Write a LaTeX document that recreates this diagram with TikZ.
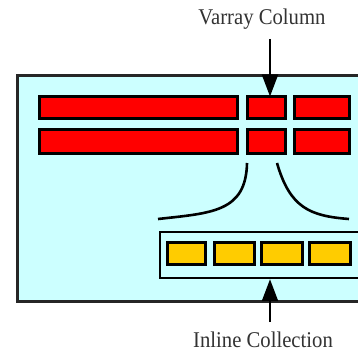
\documentclass[tikz,border=0pt]{standalone}
\usepackage{fontspec}
\setmainfont{Liberation Serif}
\usetikzlibrary{arrows.meta}
\definecolor{pale}{HTML}{CCFFFF}
\definecolor{redbar}{HTML}{FF0000}
\definecolor{gold}{HTML}{FFCC00}
\begin{document}
\begin{tikzpicture}[x=1pt,y=-1pt,
  cell/.style={draw=black,line width=3pt,inner sep=0pt,outer sep=0pt,anchor=north west},
  redcell/.style={cell,fill=redbar},
  goldcell/.style={cell,fill=gold},
  lbl/.style={font=\fontsize{22.5}{22.5}\selectfont,text=black!80,inner sep=0pt},
  arr/.style={line width=2.2pt,-{Triangle[length=22pt,width=16pt]}},
  curve/.style={line width=2.6pt}]
\clip (0,0) rectangle (358,352);
\fill[white] (0,0) rectangle (358,352);
% outer table box
\node[draw=black!85,line width=3pt,fill=pale,inner sep=0pt,anchor=north west,
  minimum width=360pt,minimum height=225pt] (tbl) at (15.5,74.5) {};
% red rows
\node[redcell,minimum width=198pt,minimum height=22pt] (r1a) at (39.5,96.5) {};
\node[redcell,minimum width=38pt,minimum height=22pt] (r1b) at (247.5,96.5) {};
\node[redcell,minimum width=55pt,minimum height=22pt] (r1c) at (294.5,96.5) {};
\node[redcell,minimum width=198pt,minimum height=24pt] (r2a) at (39.5,129.5) {};
\node[redcell,minimum width=38pt,minimum height=24pt] (r2b) at (247.5,129.5) {};
\node[redcell,minimum width=55pt,minimum height=24pt] (r2c) at (294.5,129.5) {};
% fanning curves
\coordinate (cl1) at (247,163);
\coordinate (cl2) at (158,219);
\coordinate (cr1) at (277,163);
\coordinate (cr2) at (349,219);
\draw[curve] (cl1) .. controls (246,212) and (212,213) .. (cl2);
\draw[curve] (cr1) .. controls (290,208) and (310,216) .. (cr2);
% inline collection box
\node[draw=black,line width=2.2pt,fill=pale,inner sep=0pt,anchor=north west,
  minimum width=220pt,minimum height=46pt] (inl) at (158.5,231) {};
\node[goldcell,minimum width=38pt,minimum height=22pt] (g1) at (167.5,242.5) {};
\node[goldcell,minimum width=40pt,minimum height=22pt] (g2) at (214.5,242.5) {};
\node[goldcell,minimum width=41pt,minimum height=22pt] (g3) at (261.5,242.5) {};
\node[goldcell,minimum width=41pt,minimum height=22pt] (g4) at (309.5,242.5) {};
% labels and arrows
\node[lbl] (vlab) at (262,19) {\scalebox{0.92}[1]{Varray Column}};
\node[lbl] (ilab) at (263,340) {\scalebox{0.92}[1]{Inline Collection}};
\coordinate (vtop) at (270,39);
\coordinate (ibot) at (270,322);
\draw[arr] (vtop) -- (vtop |- r1b.north);
\draw[arr] (ibot) -- (ibot |- inl.south);
\end{tikzpicture}
\end{document}
